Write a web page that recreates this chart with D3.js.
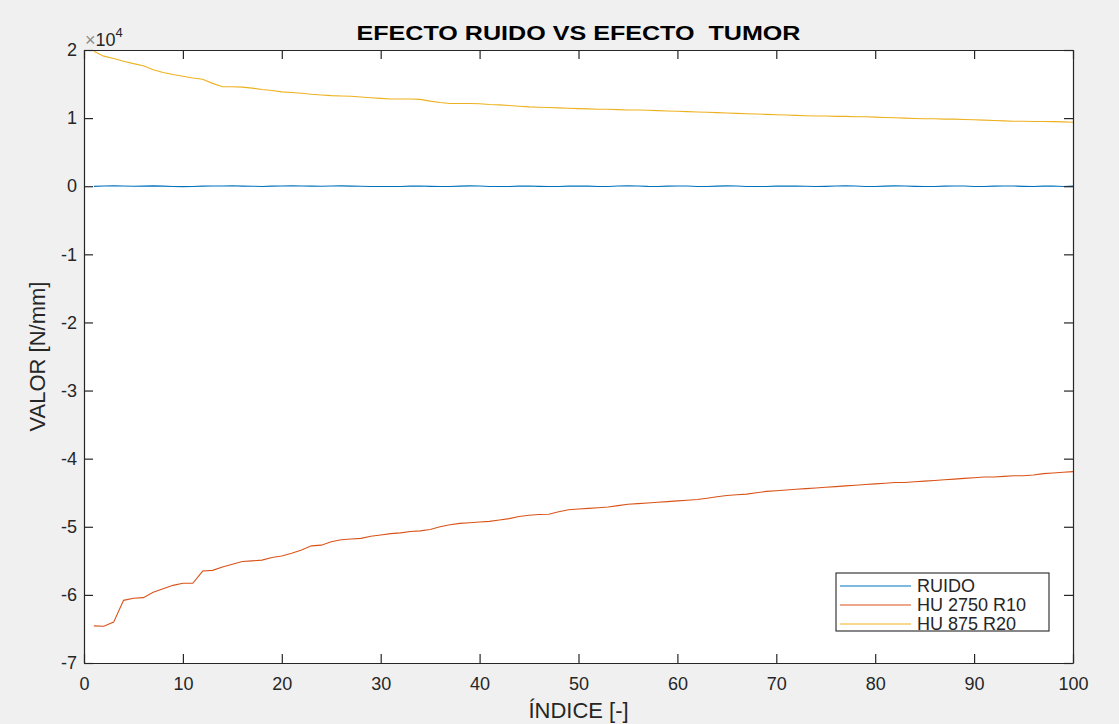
<!DOCTYPE html>
<html><head><meta charset="utf-8">
<script src="https://cdn.jsdelivr.net/npm/d3@7"></script>
<style>
html,body{margin:0;padding:0;background:#f0f0f0;}
text{font-family:Arial,"Liberation Sans",sans-serif;}
</style></head>
<body><svg id="chart" width="1119" height="724"></svg>
<script>
// ---- data ----
const seriesNames = ["RUIDO", "HU 2750 R10", "HU 875 R20"];
const seriesColors = ["#0072BD", "#D95319", "#EDB120"];
const xTicks = [0,10,20,30,40,50,60,70,80,90,100];
const yTicks = [20000,10000,0,-10000,-20000,-30000,-40000,-50000,-60000,-70000];
const yTickLabels = ["2","1","0","-1","-2","-3","-4","-5","-6","-7"];

const ruido = [-20,40,60,30,-10,10,50,20,-40,-60,-30,20,40,30,60,20,0,-30,10,40,
 50,30,20,0,30,50,20,-10,-40,-50,-30,-40,10,30,-20,-50,-30,20,50,40,
 -30,-50,-40,20,30,-20,-50,-30,20,40,10,-40,-30,30,50,40,-20,-40,20,40,
 30,-30,-50,20,50,30,-40,-50,-30,10,40,20,-10,-40,-20,30,50,40,-30,-40,
 20,50,30,-20,-40,-30,20,40,30,-40,-50,10,40,30,-20,-40,10,40,-30,20];

const hu2750 = [-64550,-64600,-64000,-60800,-60500,-60400,-59600,-59100,-58600,-58300,
 -58300,-56500,-56400,-55900,-55500,-55100,-55000,-54900,-54500,-54300,
 -53900,-53400,-52800,-52700,-52200,-51900,-51800,-51700,-51400,-51200,
 -51000,-50900,-50700,-50600,-50400,-50000,-49700,-49500,-49400,-49300,
 -49200,-49000,-48800,-48500,-48300,-48200,-48150,-47800,-47500,-47400,
 -47300,-47200,-47100,-46900,-46700,-46600,-46500,-46400,-46300,-46200,
 -46100,-46000,-45800,-45600,-45400,-45300,-45200,-45000,-44800,-44700,
 -44600,-44500,-44400,-44300,-44200,-44100,-44000,-43900,-43800,-43700,
 -43600,-43500,-43500,-43400,-43300,-43200,-43100,-43000,-42900,-42800,
 -42700,-42700,-42600,-42500,-42500,-42400,-42200,-42100,-42000,-41900];

const hu875 = [19800,19100,18750,18350,18000,17700,17100,16700,16400,16150,
 15900,15700,15100,14600,14600,14550,14400,14200,14050,13850,
 13750,13650,13500,13400,13300,13250,13200,13100,13000,12900,
 12800,12800,12800,12750,12500,12300,12150,12150,12150,12100,
 12000,11950,11850,11750,11650,11600,11550,11500,11450,11400,
 11350,11300,11300,11250,11200,11200,11150,11100,11050,11000,
 10950,10900,10850,10800,10750,10700,10650,10600,10550,10500,
 10450,10400,10350,10300,10300,10250,10250,10200,10200,10150,
 10100,10050,10000,9950,9900,9900,9850,9850,9800,9750,
 9700,9650,9600,9550,9550,9500,9500,9480,9450,9400];

const allSeries = [ruido, hu2750, hu875];

// ---- layout ----
const svg = d3.select("#chart");
const L = 84, R = 1073, T = 50, B = 663;
const x = d3.scaleLinear().domain([0,100]).range([L,R]);
const y = d3.scaleLinear().domain([-70000,20000]).range([B,T]);
const axisColor = "#262626";

svg.append("rect").attr("x",L).attr("y",T).attr("width",R-L).attr("height",B-T).attr("fill","#ffffff");

// lines
const line = d3.line().x((d,i)=>x(i+1)).y(d=>y(d));
allSeries.forEach((s,k)=>{
  svg.append("path").datum(s).attr("d",line).attr("fill","none")
    .attr("stroke",seriesColors[k]).attr("stroke-width",1.1);
});

// axes
const tickLen = 9;
const fmtY = d => yTickLabels[yTicks.indexOf(d)];
const gB = svg.append("g").attr("transform",`translate(0,${B})`)
  .call(d3.axisBottom(x).tickValues(xTicks).tickSize(-tickLen).tickPadding(14).tickSizeOuter(0));
const gTp = svg.append("g").attr("transform",`translate(0,${T})`)
  .call(d3.axisTop(x).tickValues(xTicks).tickSize(-tickLen).tickFormat("").tickSizeOuter(0));
const gL = svg.append("g").attr("transform",`translate(${L},0)`)
  .call(d3.axisLeft(y).tickValues(yTicks).tickSize(-tickLen).tickPadding(7).tickFormat(fmtY).tickSizeOuter(0));
const gR = svg.append("g").attr("transform",`translate(${R},0)`)
  .call(d3.axisRight(y).tickValues(yTicks).tickSize(-tickLen).tickFormat("").tickSizeOuter(0));
[gB,gTp,gL,gR].forEach(g=>{
  g.select(".domain").attr("stroke",axisColor).attr("stroke-width",1.2);
  g.selectAll(".tick line").attr("stroke",axisColor).attr("stroke-width",1.2);
  g.selectAll(".tick text").attr("fill",axisColor).attr("font-size",18)
   .attr("font-family","Arial, 'Liberation Sans', sans-serif");
});
gB.selectAll(".tick text").attr("dy","0.71em");

// exponent label
const ex = svg.append("text").attr("x",L+1).attr("y",T-4).attr("fill",axisColor).attr("font-size",18);
ex.append("tspan").text("\u00d7").attr("fill","#8a8a8a");
ex.append("tspan").text("10");
ex.append("tspan").text("4").attr("font-size",13).attr("dy",-9);

// title
svg.append("text").attr("x",(L+R)/2).attr("y",40).attr("text-anchor","middle")
  .attr("font-size",21).attr("font-weight","bold").attr("fill","#000")
  .attr("xml:space","preserve").style("white-space","pre")
  .attr("textLength",444).attr("lengthAdjust","spacingAndGlyphs")
  .text("EFECTO RUIDO VS EFECTO  TUMOR");

// axis labels
svg.append("text").attr("x",(L+R)/2).attr("y",718).attr("text-anchor","middle")
  .attr("font-size",22).attr("fill",axisColor).text("ÍNDICE [-]");
svg.append("text").attr("transform",`translate(45,${(T+B)/2}) rotate(-90)`).attr("text-anchor","middle")
  .attr("font-size",22).attr("fill",axisColor).text("VALOR [N/mm]");

// legend
const lg = svg.append("g");
const lx = 836, ly = 573, lw = 213, lh = 58;
lg.append("rect").attr("x",lx).attr("y",ly).attr("width",lw).attr("height",lh)
  .attr("fill","#fff").attr("stroke",axisColor).attr("stroke-width",1.1);
seriesNames.forEach((n,k)=>{
  const yy = ly + 13 + k*19;
  lg.append("line").attr("x1",lx+4).attr("x2",lx+75).attr("y1",yy).attr("y2",yy)
    .attr("stroke",seriesColors[k]).attr("stroke-width",1.1);
  lg.append("text").attr("x",lx+81).attr("y",yy).attr("dy","0.35em")
    .attr("font-size",18).attr("fill",axisColor).text(n);
});
</script></body></html>
